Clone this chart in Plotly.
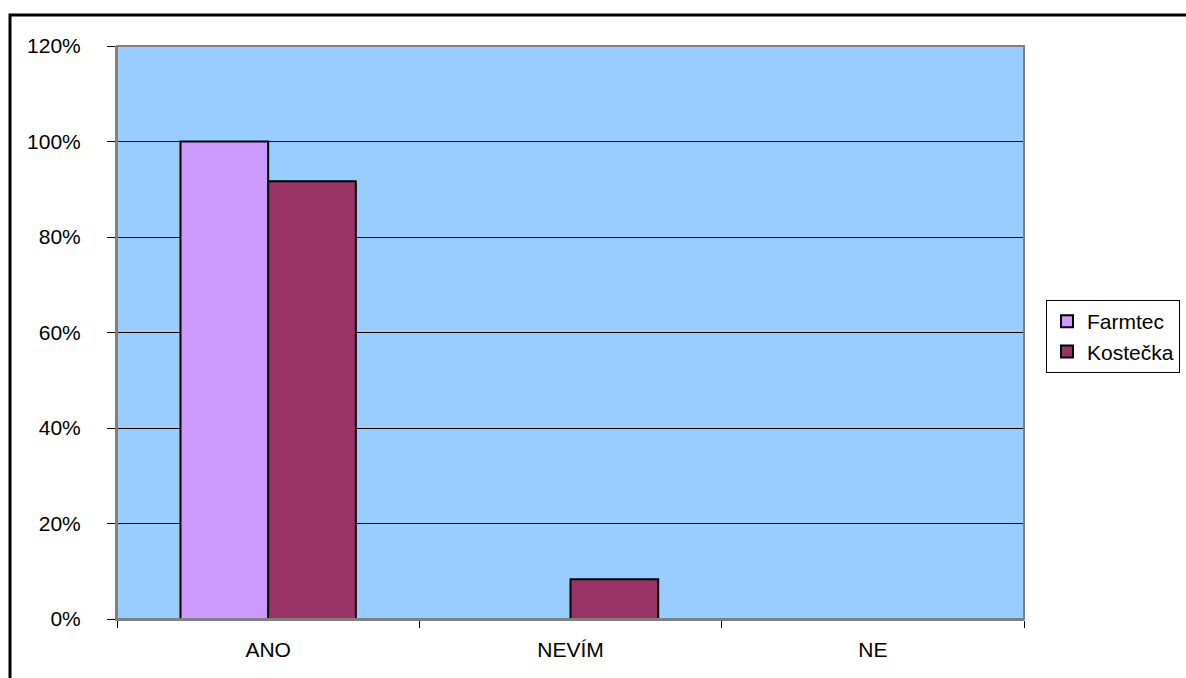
import plotly.graph_objects as go

# Survey answers and share of respondents per company
categories = ["ANO", "NEVÍM", "NE"]
farmtec = [1.0, 0.0, 0.0]
kostecka = [11 / 12, 1 / 12, 0.0]
y_ticks = [0, 0.2, 0.4, 0.6, 0.8, 1.0, 1.2]
y_tick_labels = ["0%", "20%", "40%", "60%", "80%", "100%", "120%"]

W, H = 1186, 678
L, R, T, B = 117, 162, 46, 59
pw, ph = W - L - R, H - T - B


def px_x(p):
    return (p - L) / pw


def px_y(p):
    return (H - B - p) / ph


FONT = "Liberation Sans, Arial, sans-serif"

fig = go.Figure()
fig.add_trace(go.Bar(
    name="Farmtec", x=categories, y=farmtec,
    marker=dict(color="#CC99FF", line=dict(color="black", width=2)),
))
fig.add_trace(go.Bar(
    name="Kostečka", x=categories, y=kostecka,
    marker=dict(color="#993366", line=dict(color="black", width=2)),
))

fig.update_layout(
    width=W, height=H,
    margin=dict(l=L, r=R, t=T, b=B, autoexpand=False),
    paper_bgcolor="white",
    plot_bgcolor="#99CCFF",
    barmode="group",
    bargap=0.42,
    bargroupgap=0,
    font=dict(family=FONT, size=21, color="black"),
    showlegend=True,
    legend=dict(
        x=px_x(1046), y=px_y(300), xanchor="left", yanchor="top",
        bordercolor="black", borderwidth=1, bgcolor="white",
        font=dict(size=21), tracegroupgap=0,
    ),
    xaxis=dict(
        type="category",
        showgrid=False,
        ticks="outside", ticklen=7, tickcolor="black", tickwidth=1,
        tickson="boundaries",
        showline=True, linecolor="#808080", linewidth=2,
        ticklabelstandoff=11,
    ),
    yaxis=dict(
        range=[0, 1.2],
        tickvals=y_ticks, ticktext=y_tick_labels,
        showgrid=True, gridcolor="black", gridwidth=1,
        ticks="outside", ticklen=8, tickcolor="black", tickwidth=1,
        showline=True, linecolor="#808080", linewidth=2,
        zeroline=False,
        ticklabelstandoff=22,
    ),
    shapes=[
        # grey frame around the plotting area
        dict(type="rect", xref="paper", yref="paper", x0=0, y0=0, x1=1, y1=1,
             line=dict(color="#808080", width=2), layer="above"),
        # outer chart border
        dict(type="rect", xref="paper", yref="paper",
             x0=px_x(10), y0=px_y(15), x1=px_x(1220), y1=px_y(720),
             line=dict(color="black", width=3), layer="above"),
    ],
)

fig.write_html("out.html")
